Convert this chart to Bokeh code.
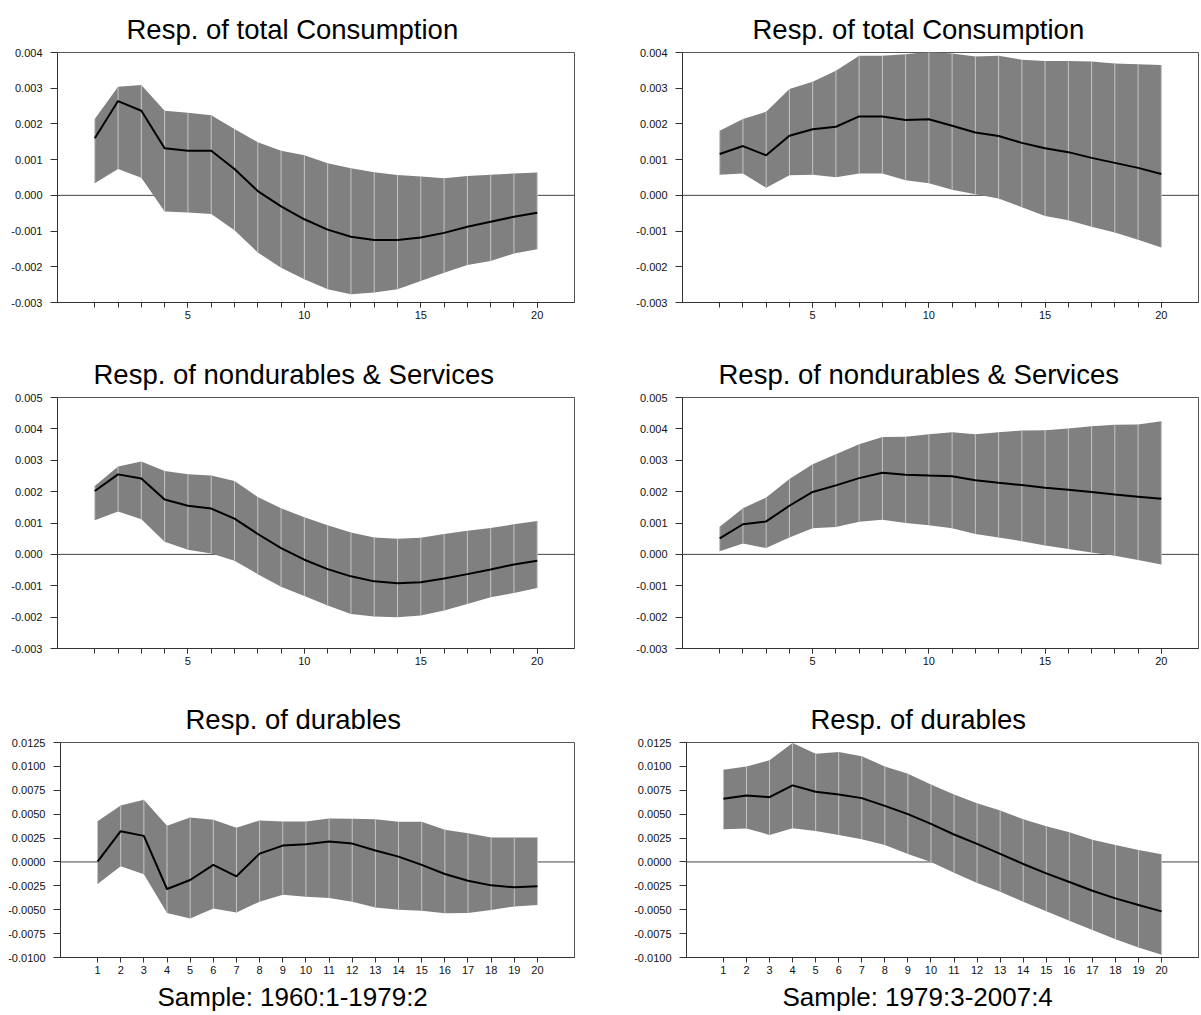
from bokeh.plotting import figure
from bokeh.layouts import row, column
from bokeh.models import Range1d, FixedTicker, NumeralTickFormatter, Span, Title
from bokeh.embed import file_html
from bokeh.resources import INLINE

# horizons
periods = list(range(1, 21))

titles = ["Resp. of total Consumption", "Resp. of nondurables & Services", "Resp. of durables"]
samples = ["Sample: 1960:1-1979:2", "Sample: 1979:3-2007:4"]

# y axis ticks per row
yticks_total = [-0.003, -0.002, -0.001, 0.0, 0.001, 0.002, 0.003, 0.004]
yticks_nds = [-0.003, -0.002, -0.001, 0.0, 0.001, 0.002, 0.003, 0.004, 0.005]
yticks_dur = [-0.01, -0.0075, -0.005, -0.0025, 0.0, 0.0025, 0.005, 0.0075, 0.01, 0.0125]

# total consumption, 1960:1-1979:2
tc1_irf = [0.00160, 0.00264, 0.00237, 0.00132, 0.00125, 0.00125, 0.00074, 0.00012, -0.00031, -0.00067,
           -0.00096, -0.00116, -0.00125, -0.00125, -0.00118, -0.00105, -0.00088, -0.00074, -0.00060, -0.00049]
tc1_hi = [0.00214, 0.00304, 0.00309, 0.00237, 0.00231, 0.00224, 0.00186, 0.00149, 0.00125, 0.00112,
          0.00090, 0.00076, 0.00065, 0.00057, 0.00053, 0.00048, 0.00054, 0.00058, 0.00061, 0.00064]
tc1_lo = [0.00034, 0.00074, 0.00049, -0.00045, -0.00048, -0.00052, -0.00098, -0.00160, -0.00203, -0.00235,
          -0.00263, -0.00277, -0.00272, -0.00263, -0.00240, -0.00217, -0.00195, -0.00184, -0.00163, -0.00151]

# total consumption, 1979:3-2007:4
tc2_irf = [0.00116, 0.00138, 0.00112, 0.00167, 0.00185, 0.00192, 0.00221, 0.00221, 0.00211, 0.00213,
           0.00195, 0.00176, 0.00166, 0.00147, 0.00132, 0.00121, 0.00105, 0.00091, 0.00077, 0.00060]
tc2_hi = [0.00181, 0.00214, 0.00234, 0.00298, 0.00318, 0.00349, 0.00391, 0.00391, 0.00395, 0.00402,
          0.00397, 0.00389, 0.00391, 0.00380, 0.00376, 0.00376, 0.00375, 0.00369, 0.00367, 0.00365]
tc2_lo = [0.00058, 0.00061, 0.00021, 0.00056, 0.00058, 0.00051, 0.00061, 0.00061, 0.00042, 0.00034,
          0.00016, 0.00003, -0.00009, -0.00033, -0.00058, -0.00070, -0.00088, -0.00104, -0.00124, -0.00146]

# nondurables & services, 1960:1-1979:2
nd1_irf = [0.00202, 0.00255, 0.00242, 0.00175, 0.00155, 0.00146, 0.00114, 0.00065, 0.00020, -0.00017,
           -0.00047, -0.00070, -0.00086, -0.00092, -0.00089, -0.00077, -0.00063, -0.00048, -0.00032, -0.00020]
nd1_hi = [0.00218, 0.00280, 0.00296, 0.00266, 0.00255, 0.00251, 0.00234, 0.00183, 0.00147, 0.00118,
          0.00093, 0.00070, 0.00054, 0.00050, 0.00053, 0.00065, 0.00075, 0.00084, 0.00096, 0.00106]
nd1_lo = [0.00109, 0.00137, 0.00112, 0.00040, 0.00015, 0.00003, -0.00020, -0.00063, -0.00103, -0.00133,
          -0.00163, -0.00190, -0.00198, -0.00200, -0.00195, -0.00179, -0.00158, -0.00137, -0.00123, -0.00107]

# nondurables & services, 1979:3-2007:4
nd2_irf = [0.00051, 0.00096, 0.00105, 0.00155, 0.00199, 0.00220, 0.00243, 0.00260, 0.00254, 0.00251,
           0.00249, 0.00236, 0.00228, 0.00221, 0.00212, 0.00206, 0.00199, 0.00191, 0.00184, 0.00177]
nd2_hi = [0.00088, 0.00147, 0.00181, 0.00240, 0.00287, 0.00319, 0.00351, 0.00374, 0.00375, 0.00383,
          0.00389, 0.00383, 0.00389, 0.00395, 0.00396, 0.00401, 0.00408, 0.00413, 0.00414, 0.00424]
nd2_lo = [0.00010, 0.00035, 0.00020, 0.00054, 0.00083, 0.00087, 0.00104, 0.00110, 0.00100, 0.00093,
          0.00083, 0.00065, 0.00054, 0.00042, 0.00028, 0.00017, 0.00006, -0.00004, -0.00018, -0.00032]

# durables, 1960:1-1979:2
du1_irf = [0.00003, 0.00322, 0.00273, -0.00283, -0.00189, -0.00031, -0.00150, 0.00087, 0.00171, 0.00185,
           0.00213, 0.00192, 0.00119, 0.00056, -0.00031, -0.00126, -0.00196, -0.00245, -0.00266, -0.00255]
du1_hi = [0.00427, 0.00591, 0.00650, 0.00378, 0.00465, 0.00441, 0.00357, 0.00434, 0.00423, 0.00423,
          0.00455, 0.00451, 0.00448, 0.00420, 0.00420, 0.00336, 0.00301, 0.00255, 0.00255, 0.00255]
du1_lo = [-0.00231, -0.00045, -0.00129, -0.00535, -0.00591, -0.00486, -0.00528, -0.00416, -0.00343, -0.00364,
          -0.00378, -0.00416, -0.00476, -0.00500, -0.00510, -0.00538, -0.00535, -0.00503, -0.00465, -0.00451]

# durables, 1979:3-2007:4
du2_irf = [0.00661, 0.00696, 0.00678, 0.00801, 0.00734, 0.00706, 0.00668, 0.00587, 0.00500, 0.00399,
           0.00287, 0.00189, 0.00084, -0.00021, -0.00119, -0.00210, -0.00301, -0.00381, -0.00451, -0.00517]
du2_hi = [0.00965, 0.01000, 0.01063, 0.01245, 0.01133, 0.01150, 0.01105, 0.01000, 0.00923, 0.00811,
          0.00706, 0.00615, 0.00538, 0.00448, 0.00374, 0.00311, 0.00231, 0.00178, 0.00126, 0.00080]
du2_lo = [0.00343, 0.00350, 0.00283, 0.00353, 0.00325, 0.00283, 0.00238, 0.00178, 0.00084, 0.00000,
          -0.00112, -0.00220, -0.00311, -0.00416, -0.00517, -0.00615, -0.00713, -0.00808, -0.00895, -0.00972]

FONT = "Liberation Sans"


def irf_panel(title, irf, lo, hi, yticks, fmt, frame_w, frame_h, left, right, top, bottom,
              title_shift, all_x_labels=False, sample=None, sample_shift=0):
    '''One impulse response with its shaded band'''
    # left aligned titles, shifted in from the frame edge (center align ignores offset)
    p = figure(frame_width=frame_w, frame_height=frame_h,
               x_range=Range1d(-0.6, 21.6), y_range=Range1d(yticks[0], yticks[-1]),
               min_border_left=left, min_border_right=right,
               min_border_top=top, min_border_bottom=bottom,
               output_backend="svg", toolbar_location=None,
               title=Title(text=title, align="left", offset=title_shift, standoff=16,
                           text_font=FONT, text_font_size="27.5px",
                           text_font_style="normal", text_color="black"))

    # zero line sits under the band
    p.add_layout(Span(location=0, dimension="width", line_color="#444444",
                      line_width=1, level="underlay"))

    p.varea(x=periods, y1=lo, y2=hi, fill_color="#808080")
    p.segment(periods, lo, periods, hi, line_color="#c4c4c4", line_width=1)
    p.line(periods, irf, line_color="black", line_width=2)

    p.xgrid.grid_line_color = None
    p.ygrid.grid_line_color = None
    p.outline_line_color = "#555555"
    p.background_fill_color = "white"
    p.border_fill_color = "white"

    if all_x_labels:
        p.xaxis.ticker = FixedTicker(ticks=periods)
    else:
        p.xaxis.ticker = FixedTicker(ticks=[5, 10, 15, 20], minor_ticks=periods)
    p.xaxis.major_tick_out = 5
    p.xaxis.major_tick_in = 0
    p.xaxis.minor_tick_out = 5
    p.xaxis.minor_tick_in = 0
    p.xaxis.major_label_standoff = 3
    p.xaxis.minor_tick_line_color = "#333333"

    p.yaxis.ticker = FixedTicker(ticks=yticks)
    p.yaxis.formatter = NumeralTickFormatter(format=fmt)
    p.yaxis.major_tick_out = 7
    p.yaxis.major_tick_in = 0
    p.yaxis.minor_tick_line_color = None
    p.yaxis.major_label_standoff = 8

    for ax in (p.xaxis, p.yaxis):
        ax.axis_line_color = "#333333"
        ax.major_tick_line_color = "#333333"
        ax.major_label_text_font = FONT
        ax.major_label_text_font_size = "11px"
        ax.major_label_text_color = "#111111"

    if sample:
        p.add_layout(Title(text=sample, align="left", offset=sample_shift, standoff=6,
                           text_font=FONT, text_font_size="26px",
                           text_font_style="normal", text_color="black"), "below")
    return p


# left column (1960:1-1979:2)
p1 = irf_panel(titles[0], tc1_irf, tc1_lo, tc1_hi, yticks_total, "0.000",
               517, 250, 57, 46, 52, 42, 69)
p3 = irf_panel(titles[1], nd1_irf, nd1_lo, nd1_hi, yticks_nds, "0.000",
               517, 251, 57, 46, 53, 41, 36)
p5 = irf_panel(titles[2], du1_irf, du1_lo, du1_hi, yticks_dur, "0.0000",
               514, 215, 60, 46, 53, 57, 125, all_x_labels=True,
               sample=samples[0], sample_shift=97)

# right column (1979:3-2007:4)
p2 = irf_panel(titles[0], tc2_irf, tc2_lo, tc2_hi, yticks_total, "0.000",
               516, 250, 62, 2, 52, 42, 70)
p4 = irf_panel(titles[1], nd2_irf, nd2_lo, nd2_hi, yticks_nds, "0.000",
               516, 251, 62, 2, 53, 41, 36)
p6 = irf_panel(titles[2], du2_irf, du2_lo, du2_hi, yticks_dur, "0.0000",
               512, 215, 66, 2, 53, 57, 124, all_x_labels=True,
               sample=samples[1], sample_shift=96)

layout = column(row(p1, p2), row(p3, p4), row(p5, p6))

open("out.html", "w").write(file_html(layout, INLINE))
